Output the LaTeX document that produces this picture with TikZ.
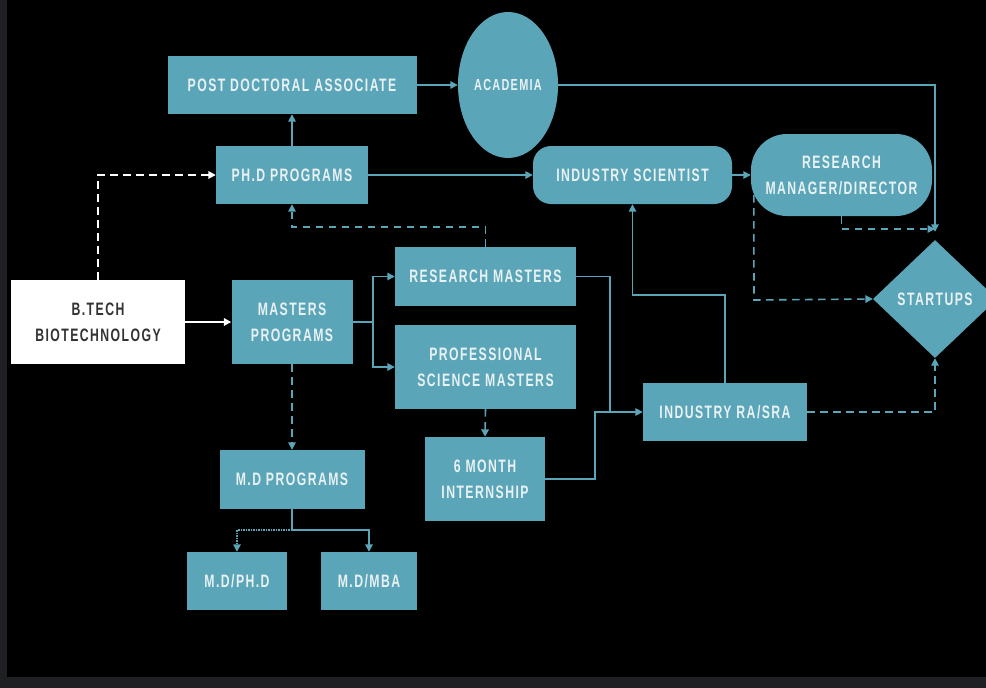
\documentclass[tikz,border=0pt]{standalone}
\usepackage{fontspec}
\usetikzlibrary{shapes.geometric,arrows.meta,calc}
\newfontfamily\lab[FakeStretch=0.68,LetterSpace=8]{Liberation Sans}
\definecolor{teal1}{HTML}{5BA5B8}
\definecolor{txt}{HTML}{E8F1F3}
\definecolor{strip}{HTML}{1E2023}
\tikzset{
  box/.style={fill=teal1,draw=none,inner sep=0pt,text=txt,align=center,font=\lab\bfseries\fontsize{18}{26}\selectfont},
  rbox/.style={box,rounded corners=#1},
  conn/.style={draw=teal1,line width=1.6pt,-{Triangle[length=7.5pt,width=7.5pt]}},
  plain/.style={draw=teal1,line width=1.6pt},
  dconn/.style={conn,dash pattern=on 7.5pt off 5.5pt},
  wdash/.style={draw=white,line width=1.8pt,dash pattern=on 8pt off 5pt,-{Triangle[length=7.5pt,width=7.5pt]}},
  wconn/.style={draw=white,line width=1.8pt,-{Triangle[length=7.5pt,width=7.5pt]}},
}
\begin{document}
\begin{tikzpicture}[x=1pt,y=-1pt]
\fill[black] (0,0) rectangle (986,688);
\useasboundingbox (0,0) rectangle (986,688);
\fill[strip] (0,0) rectangle (7,688);
\fill[strip] (0,677) rectangle (986,688);

\node[box,minimum width=249pt,minimum height=58pt] (postdoc) at (292,85) {POST DOCTORAL ASSOCIATE};
\node[box,ellipse,minimum width=100pt,minimum height=146pt,font=\lab\bfseries\fontsize{16}{18}\selectfont] (academia) at (508,85) {ACADEMIA};
\node[box,minimum width=152pt,minimum height=58pt] (phd) at (292,175) {PH.D PROGRAMS};
\node[rbox=18pt,minimum width=199pt,minimum height=58pt] (indsci) at (632.5,175) {INDUSTRY SCIENTIST};
\node[rbox=36pt,minimum width=181pt,minimum height=82pt] (rmd) at (841.5,175) {RESEARCH\\MANAGER/DIRECTOR};
\node[box,diamond,aspect=1.05,minimum width=124pt,minimum height=118pt] (startups) at (935,299) {STARTUPS};
\node[box,fill=white,text=black!80,minimum width=174pt,minimum height=84pt] (btech) at (98,322) {B.TECH\\BIOTECHNOLOGY};
\node[box,minimum width=121pt,minimum height=84pt] (masters) at (292,322) {MASTERS\\PROGRAMS};
\node[box,minimum width=181pt,minimum height=59pt] (resm) at (485.5,276.5) {RESEARCH MASTERS};
\node[box,minimum width=181pt,minimum height=84pt] (psm) at (485.5,367) {PROFESSIONAL\\SCIENCE MASTERS};
\node[box,minimum width=120pt,minimum height=84pt] (intern) at (485,479) {6 MONTH\\INTERNSHIP};
\node[box,minimum width=164pt,minimum height=58pt] (rasra) at (725,412) {INDUSTRY RA/SRA};
\node[box,minimum width=145pt,minimum height=59pt] (mdp) at (292,479.5) {M.D PROGRAMS};
\node[box,minimum width=100pt,minimum height=58pt] (mdphd) at (237,581) {M.D/PH.D};
\node[box,minimum width=96pt,minimum height=58pt] (mdmba) at (369,581) {M.D/MBA};

\coordinate (acj) at (935,85);
\coordinate (rmj) at (935,229);
\coordinate (c1) at (485.5,227);
\coordinate (mj) at (373,322);
\coordinate (rj) at (610,412);
\coordinate (ij) at (595,412);
\coordinate (c2) at (725,295);
\coordinate (c3) at (754,300);
\coordinate (c4) at (292,530);

% top part
\draw[conn] (phd.north) -- (postdoc.south);
\draw[conn] (postdoc.east) -- (academia.west);
\draw[conn,shorten >=8pt] (academia.east) -- (acj) -- (startups.north);
\draw[dconn] (rmd.south) |- (rmj);
\draw[conn] (phd.east) -- (indsci.west);
\draw[conn] (indsci.east) -- (rmd.west);
\draw[dconn] ([xshift=3pt,yshift=-20pt]rmd.west) -- (c3) -- (startups.west);

% from btech
\draw[wdash] (btech.north) |- (phd.west);
\draw[wconn] (btech.east) -- (masters.west);

% masters
\draw[plain] (masters.east) -- (mj);
\draw[conn] (mj) |- (resm.west);
\draw[conn] (mj) |- (psm.west);
\draw[dconn] (resm.north) -- (c1) -| (phd.south);
\draw[dconn] (masters.south) -- (mdp.north);
\draw[dconn] (psm.south) -- (intern.north);

% to industry RA
\draw[plain] (resm.east) -| (rj);
\draw[conn] (intern.east) -| (ij) -- (rasra.west);
\draw[conn] (rasra.north) -- (c2) -| (indsci.south);
\draw[dconn] (rasra.east) -| (startups.south);

% MD
\draw[conn] (mdp.south) -- (c4) -| (mdmba.north);
\draw[conn,dash pattern=on 1.5pt off 1pt] (c4) -| (mdphd.north);
\end{tikzpicture}
\end{document}
